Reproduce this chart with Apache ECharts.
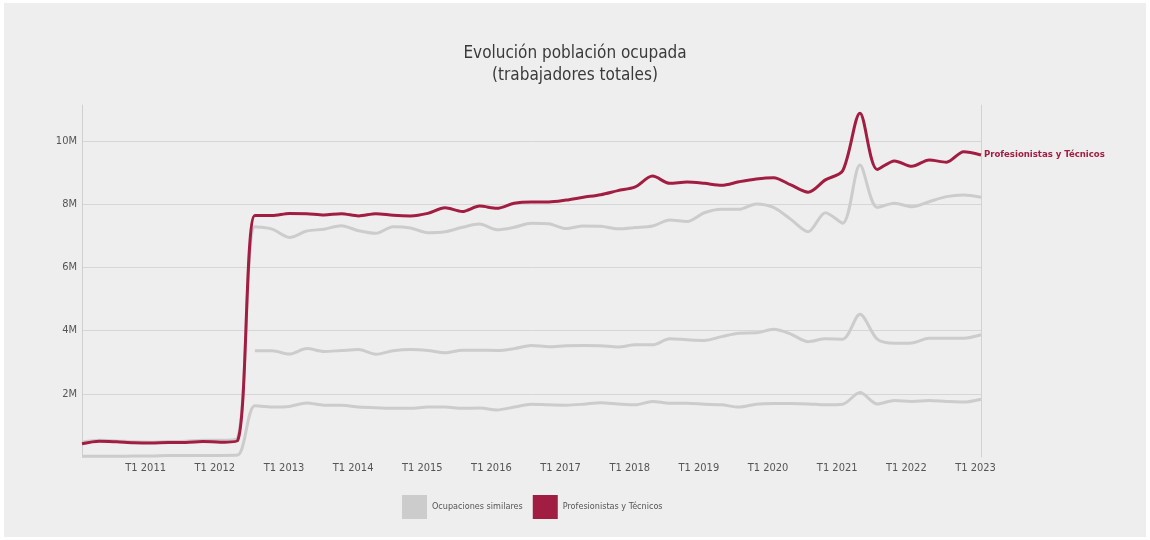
<!DOCTYPE html>
<html>
<head>
<meta charset="utf-8">
<script src="https://cdn.jsdelivr.net/npm/echarts@6/dist/echarts.min.js"></script>
<style>
html,body{margin:0;padding:0;background:#ffffff;width:1150px;height:540px;overflow:hidden;}
#chart{position:absolute;left:4px;top:3px;width:1142px;height:534px;}
</style>
</head>
<body>
<div id="chart"></div>
<script>
const categories = [
'T1 2010','T2 2010','T3 2010','T4 2010',
'T1 2011','T2 2011','T3 2011','T4 2011',
'T1 2012','T2 2012','T3 2012','T4 2012',
'T1 2013','T2 2013','T3 2013','T4 2013',
'T1 2014','T2 2014','T3 2014','T4 2014',
'T1 2015','T2 2015','T3 2015','T4 2015',
'T1 2016','T2 2016','T3 2016','T4 2016',
'T1 2017','T2 2017','T3 2017','T4 2017',
'T1 2018','T2 2018','T3 2018','T4 2018',
'T1 2019','T2 2019','T3 2019','T4 2019',
'T1 2020','T2 2020','T3 2020','T4 2020',
'T1 2021','T2 2021','T3 2021','T4 2021',
'T1 2022','T2 2022','T3 2022','T4 2022',
'T1 2023'
];

// values in millions of workers
const profesionistas = [
0.42,0.50,0.48,0.45,0.44,0.46,0.46,0.49,0.47,0.52,
7.64,7.64,7.71,7.70,7.66,7.70,7.63,7.70,7.65,7.63,
7.71,7.89,7.77,7.94,7.87,8.03,8.07,8.07,8.13,8.22,
8.30,8.43,8.55,8.89,8.66,8.70,8.66,8.60,8.71,8.80,
8.84,8.61,8.38,8.77,9.06,10.88,9.10,9.37,9.20,9.40,
9.33,9.66,9.56
];

const similaresA = [
0.47,0.53,0.51,0.48,0.47,0.49,0.50,0.53,0.53,0.60,
7.29,7.21,6.95,7.15,7.21,7.32,7.16,7.08,7.29,7.25,
7.10,7.13,7.27,7.37,7.19,7.27,7.40,7.38,7.23,7.31,
7.30,7.22,7.26,7.31,7.50,7.45,7.73,7.84,7.84,8.01,
7.90,7.52,7.13,7.73,7.40,9.24,7.90,8.03,7.92,8.08,
8.24,8.29,8.22
];

const similaresB = [
null,null,null,null,null,null,null,null,null,null,
3.36,3.36,3.26,3.43,3.34,3.37,3.40,3.25,3.36,3.40,
3.37,3.30,3.38,3.38,3.37,3.43,3.53,3.49,3.52,3.53,
3.52,3.48,3.55,3.55,3.74,3.71,3.69,3.81,3.92,3.93,
4.04,3.89,3.65,3.74,3.73,4.52,3.73,3.60,3.61,3.76,
3.76,3.76,3.87
];

const similaresC = [
0.02,0.02,0.02,0.03,0.03,0.05,0.05,0.05,0.05,0.06,
1.62,1.58,1.60,1.71,1.64,1.64,1.58,1.56,1.54,1.54,
1.58,1.58,1.54,1.55,1.49,1.58,1.67,1.65,1.64,1.67,
1.72,1.68,1.65,1.76,1.70,1.70,1.67,1.65,1.58,1.67,
1.69,1.69,1.68,1.65,1.67,2.04,1.68,1.79,1.76,1.79,
1.76,1.74,1.83
];

const yTicks = [2, 4, 6, 8, 10];
const yMax = 11.14;

const FONT = '"DejaVu Sans Condensed","Liberation Sans Narrow","Noto Sans",sans-serif';
const RED = '#a21d42';
const GRAY = '#cccccc';

const chart = echarts.init(document.getElementById('chart'));

function graySeries(data) {
  return {
    name: 'Ocupaciones similares',
    type: 'line',
    data: data,
    smooth: 0.3,
    showSymbol: false,
    symbol: 'none',
    connectNulls: false,
    lineStyle: { color: GRAY, width: 3 },
    itemStyle: { color: GRAY },
    z: 2,
    silent: true
  };
}

chart.setOption({
  backgroundColor: '#eeeeee',
  animation: false,
  textStyle: { fontFamily: FONT },
  title: {
    text: 'Evolución población ocupada\n(trabajadores totales)',
    left: 'center',
    top: 40,
    padding: [0, 0, 0, 8],
    textStyle: {
      fontFamily: FONT,
      fontSize: 17,
      fontWeight: 'normal',
      color: '#3a3a3a',
      lineHeight: 22
    }
  },
  legend: {
    left: 393,
    top: 487,
    itemWidth: 25,
    itemHeight: 24,
    itemGap: 10,
    icon: 'rect',
    textStyle: { fontFamily: FONT, fontSize: 9, color: '#555555' },
    data: [
      { name: 'Ocupaciones similares', itemStyle: { color: GRAY } },
      { name: 'Profesionistas y Técnicos', itemStyle: { color: RED } }
    ]
  },
  grid: { left: 78, right: 165, top: 102, bottom: 80, containLabel: false },
  xAxis: {
    type: 'category',
    data: categories,
    boundaryGap: false,
    axisLine: { show: false },
    axisTick: { show: false },
    splitLine: { show: false },
    axisLabel: {
      interval: function (idx) { return idx >= 4 && idx % 4 === 0; },
      margin: 6,
      padding: [0, 11, 0, 0],
      fontFamily: FONT,
      fontSize: 11,
      color: '#555555'
    }
  },
  yAxis: [{
    type: 'value',
    min: 0,
    max: yMax,
    interval: 2,
    axisLine: { show: true, lineStyle: { color: '#cfcfcf', width: 1 } },
    axisTick: { show: false },
    axisLabel: {
      margin: 5,
      fontFamily: FONT,
      fontSize: 11,
      color: '#555555',
      showMinLabel: false,
      showMaxLabel: false,
      formatter: function (v) { return yTicks.indexOf(v) >= 0 ? v + 'M' : ''; }
    },
    splitLine: {
      show: true,
      showMinLine: false,
      showMaxLine: false,
      lineStyle: { color: '#d6d6d6', width: 1 }
    }
  }, {
    type: 'value',
    position: 'right',
    min: 0,
    max: yMax,
    interval: 2,
    axisLine: { show: true, lineStyle: { color: '#d2d2d2', width: 1 } },
    axisTick: { show: false },
    axisLabel: { show: false },
    splitLine: { show: false }
  }],
  series: [
    graySeries(similaresA),
    graySeries(similaresB),
    graySeries(similaresC),
    {
      name: 'Profesionistas y Técnicos',
      type: 'line',
      data: profesionistas,
      smooth: 0.3,
      showSymbol: false,
      symbol: 'none',
      lineStyle: { color: RED, width: 3 },
      itemStyle: { color: RED },
      z: 3,
      silent: true,
      endLabel: {
        show: true,
        formatter: '{a}',
        distance: 3,
        fontFamily: FONT,
        fontSize: 9.5,
        fontWeight: 'bold',
        color: RED
      }
    }
  ]
});
</script>
</body>
</html>
